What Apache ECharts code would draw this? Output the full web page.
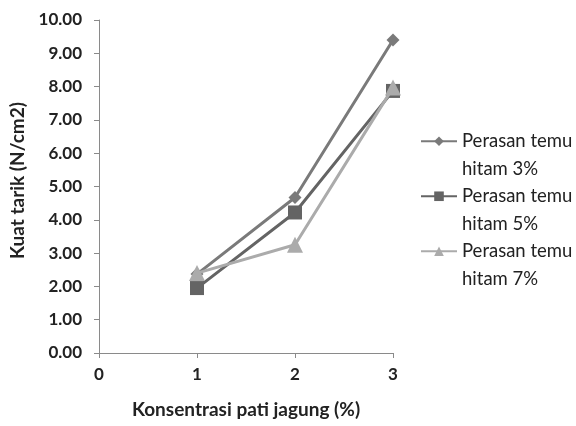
<!DOCTYPE html>
<html>
<head>
<meta charset="utf-8">
<script src="https://cdn.jsdelivr.net/npm/echarts@6/dist/echarts.min.js"></script>
<style>
  html, body { margin: 0; padding: 0; background: #fff; }
  #chart { width: 576px; height: 426px; }
</style>
</head>
<body>
<div id="chart"></div>
<script>
// Tensile strength vs. corn starch concentration
const concentrations = [1, 2, 3];
const seriesNames = ['Perasan temu hitam 3%', 'Perasan temu hitam 5%', 'Perasan temu hitam 7%'];
const temu3 = [2.37, 4.67, 9.40];
const temu5 = [1.95, 4.22, 7.87];
const temu7 = [2.40, 3.25, 7.97];
const yTicks = [0, 1, 2, 3, 4, 5, 6, 7, 8, 9, 10];

const FONT = 'Lato, "Open Sans", sans-serif';
const styles = [
  { color: '#7a7a7a', symbol: 'diamond', size: 13 },
  { color: '#646464', symbol: 'rect', size: 14 },
  { color: '#ababab', symbol: 'triangle', size: 16 }
];
const values = [temu3, temu5, temu7];

// Legend labels wrap after "temu"; a leading blank line keeps the icon on the first line
const wrapLegend = name => '\n' + name.replace(' hitam', '\nhitam');

const chart = echarts.init(document.getElementById('chart'), null, { renderer: 'canvas' });
chart.setOption({
  animation: false,
  backgroundColor: '#fff',
  grid: { left: 99, right: 183, top: 20, bottom: 73 },
  legend: {
    orient: 'vertical',
    left: 415,
    top: 95,
    itemGap: -27.5,
    itemWidth: 36,
    itemHeight: 12,
    data: seriesNames,
    formatter: wrapLegend,
    textStyle: {
      fontFamily: FONT,
      fontSize: 18.5,
      color: '#222',
      lineHeight: 27.5
    }
  },
  xAxis: {
    type: 'value',
    min: 0,
    max: 3,
    interval: 1,
    name: 'Konsentrasi pati jagung (%)',
    nameLocation: 'middle',
    nameGap: 47,
    nameTextStyle: { fontFamily: FONT, fontSize: 19, fontWeight: 'bold', color: '#222' },
    axisLine: { lineStyle: { color: '#8a8a8a', width: 1 } },
    axisTick: { show: true, inside: false, length: 5, lineStyle: { color: '#8a8a8a' } },
    axisLabel: { fontFamily: FONT, fontSize: 17, fontWeight: 'bold', color: '#222', margin: 13 },
    splitLine: { show: false }
  },
  yAxis: {
    type: 'value',
    min: yTicks[0],
    max: yTicks[yTicks.length - 1],
    interval: 1,
    name: 'Kuat tarik (N/cm2)',
    nameLocation: 'middle',
    nameGap: 58,
    nameTextStyle: { fontFamily: FONT, fontSize: 19, fontWeight: 'bold', color: '#222', padding: [0, 0, 0, 12] },
    axisLine: { show: true, lineStyle: { color: '#8a8a8a', width: 1 } },
    axisTick: { show: true, length: 5, lineStyle: { color: '#8a8a8a' } },
    axisLabel: {
      fontFamily: FONT, fontSize: 17, fontWeight: 'bold', color: '#222', margin: 17,
      formatter: v => v.toFixed(2)
    },
    splitLine: { show: false }
  },
  series: seriesNames.map((name, i) => ({
    name: name,
    type: 'line',
    data: concentrations.map((c, j) => [c, values[i][j]]),
    symbol: styles[i].symbol,
    symbolSize: styles[i].size,
    showAllSymbol: true,
    lineStyle: { color: styles[i].color, width: 3 },
    itemStyle: { color: styles[i].color },
    z: 2 + i
  }))
});
</script>
</body>
</html>
